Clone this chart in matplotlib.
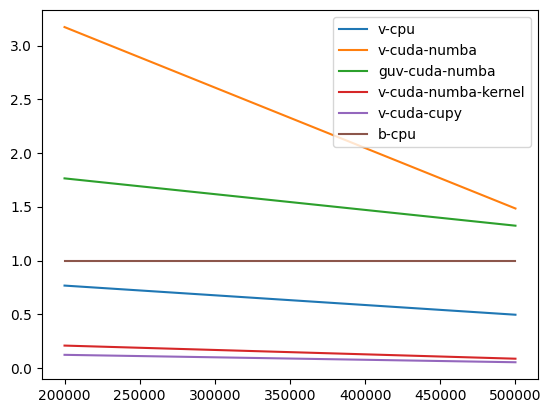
import matplotlib
matplotlib.use("Agg")
import matplotlib.pyplot as plt

sizes = [200000, 500000]
labels = ["v-cpu", "v-cuda-numba", "guv-cuda-numba", "v-cuda-numba-kernel", "v-cuda-cupy", "b-cpu"]
v_cpu = [0.768, 0.497]
v_cuda_numba = [3.172, 1.485]
guv_cuda_numba = [1.765, 1.325]
v_cuda_numba_kernel = [0.210, 0.088]
v_cuda_cupy = [0.124, 0.055]
b_cpu = [1.0, 1.0]
series = [v_cpu, v_cuda_numba, guv_cuda_numba, v_cuda_numba_kernel, v_cuda_cupy, b_cpu]

fig = plt.figure(figsize=(5.51, 4.13), dpi=100)
ax = fig.add_axes([0.0762, 0.0823, 0.9002, 0.8927])
for lab, s in zip(labels, series):
    ax.plot(sizes, s, label=lab)
ax.legend(loc="upper right")
fig.savefig("out.png", dpi=100)
